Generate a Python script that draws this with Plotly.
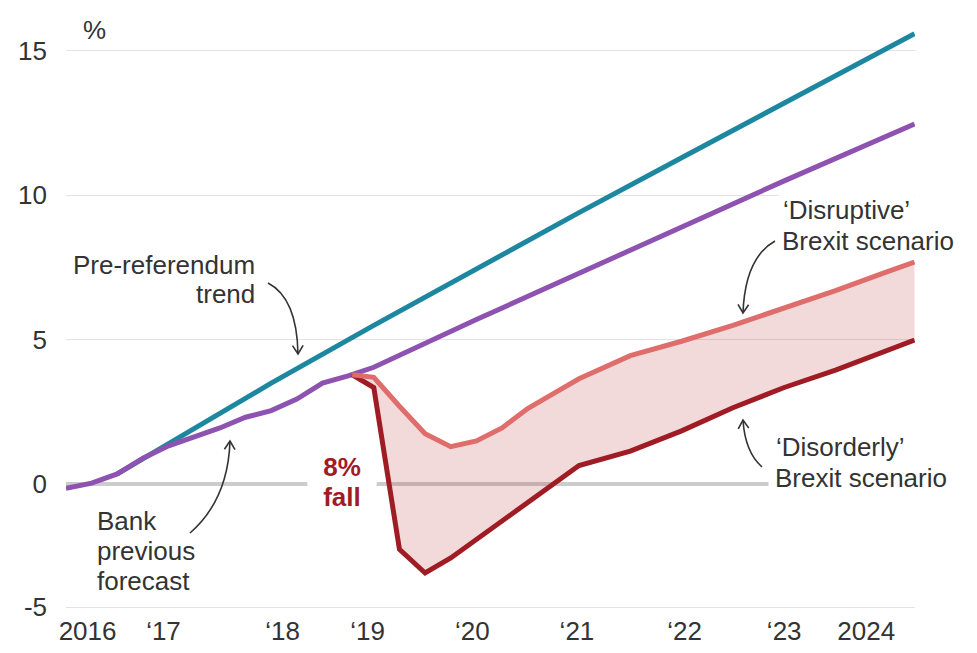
import math
import plotly.graph_objects as go

# ---------------- data ----------------
trend_x = [2016.5, 2017.0, 2018.0, 2019.0, 2020.0, 2021.0, 2022.0, 2023.0, 2024.27]
trend_y = [0.36, 1.4, 3.5, 5.5, 7.45, 9.4, 11.3, 13.2, 15.59]

bank_x = [2016.0, 2016.25, 2016.5, 2016.75, 2017.0, 2017.25, 2017.5, 2017.75, 2018.0,
          2018.25, 2018.5, 2018.75, 2019.0, 2020.0, 2021.0, 2022.0, 2023.0, 2024.27]
bank_y = [-0.14, 0.04, 0.36, 0.9, 1.33, 1.62, 1.95, 2.32, 2.55,
          2.95, 3.5, 3.75, 4.05, 5.7, 7.3, 8.9, 10.5, 12.47]

scen_x = [2018.79, 2019.0, 2019.25, 2019.5, 2019.75, 2020.0, 2020.25, 2020.5, 2020.75,
          2021.0, 2021.5, 2022.0, 2022.5, 2023.0, 2023.5, 2024.0, 2024.27]
disruptive_y = [3.79, 3.7, 2.7, 1.75, 1.3, 1.5, 1.95, 2.62, 3.14,
                3.65, 4.45, 4.95, 5.5, 6.1, 6.7, 7.35, 7.69]
disorderly_y = [3.79, 3.35, -2.25, -3.07, -2.55, -1.9, -1.25, -0.6, 0.05,
                0.65, 1.15, 1.85, 2.65, 3.35, 3.95, 4.6, 4.99]

xtick_vals = [2016.21, 2016.95, 2018.11, 2018.94, 2019.96, 2020.98, 2022.03, 2023.0, 2023.8]
xtick_text = ["2016", "\u201817", "\u201818", "\u201819", "\u201820", "\u201821",
              "\u201822", "\u201823", "2024"]
ytick_text = ["-5", "0", "5", "10", "15"]

# ---------------- styling ----------------
W, H = 977, 653
PL, PR, PT, PB = 66, 915, 10, 607          # plot area in pixels
X_PER_YEAR = 102.6
Y_ZERO, Y_PER_UNIT = 484.3, 28.9

def dx(px):
    return 2016 + (px - PL) / X_PER_YEAR

def dy(py):
    return (Y_ZERO - py) / Y_PER_UNIT

x_range = [dx(PL), dx(PR)]
y_range = [dy(PB), dy(PT)]
ytick_vals = [y_range[0], 0, 5, 10, 15]

FONT = "Liberation Sans, Arial, sans-serif"
TXT = "#333333"
TEAL = "#1e87a0"
PURPLE = "#8e52b0"
DISRUPT = "#df6d6c"
DISORDER = "#a01c24"

fig = go.Figure()
fig.add_trace(go.Scatter(x=trend_x, y=trend_y, mode="lines",
                         line=dict(color=TEAL, width=5), hoverinfo="skip"))
fig.add_trace(go.Scatter(x=bank_x, y=bank_y, mode="lines",
                         line=dict(color=PURPLE, width=5), hoverinfo="skip"))
fig.add_trace(go.Scatter(x=scen_x, y=disorderly_y, mode="lines",
                         line=dict(color=DISORDER, width=5), hoverinfo="skip"))
fig.add_trace(go.Scatter(x=scen_x, y=disruptive_y, mode="lines", fill="tonexty",
                         fillcolor="rgba(190,50,50,0.18)",
                         line=dict(color=DISRUPT, width=5), hoverinfo="skip"))

# ---------------- annotations ----------------
annotations = []

def label(text, px, py, anchor, bg=None, pad=0, color=TXT, bold=False, width=None):
    a = dict(text=("<b>%s</b>" % text) if bold else text,
             x=dx(px), y=dy(py), xref="x", yref="y",
             xanchor=anchor, yanchor="middle", showarrow=False,
             font=dict(family=FONT, size=26, color=color))
    if bg:
        a.update(bgcolor=bg, borderpad=pad)
    if width:
        a.update(width=width, align="center")
    annotations.append(a)

label("Pre-referendum", 257, 265, "right")
label("trend", 257, 294, "right")
label("Bank", 95, 521, "left")
label("previous", 95, 551, "left")
label("forecast", 95, 581, "left")
# second lines first so the first lines (with descenders) sit on top
label("Brexit scenario", 778, 241, "left", bg="white", pad=3)
label("\u2018Disruptive\u2019", 778, 210, "left", bg="white", pad=4)
label("Brexit scenario", 768, 478, "left", bg="white", pad=6)
label("\u2018Disorderly\u2019", 774, 447, "left")
label("8%", 342, 467, "center", bg="white", pad=2, color=DISORDER, bold=True, width=64)
label("fall", 342, 497, "center", bg="white", pad=2, color=DISORDER, bold=True, width=64)

annotations.append(dict(text="%", x=33 / W, y=1 - 22 / H, xref="paper", yref="paper",
                        xanchor="center", yanchor="middle", showarrow=False,
                        font=dict(family=FONT, size=26, color=TXT)))

# ---------------- curved arrows ----------------
shapes = []

def arrow(start, ctrl, tip, arm=10, ang=32):
    p = lambda q: "%.5f,%.5f" % (dx(q[0]), dy(q[1]))
    shapes.append(dict(type="path", xref="x", yref="y",
                       path="M %s Q %s %s" % (p(start), p(ctrl), p(tip)),
                       line=dict(color="#333333", width=1.6)))
    vx, vy = tip[0] - ctrl[0], tip[1] - ctrl[1]
    n = math.hypot(vx, vy)
    vx, vy = vx / n, vy / n
    pts = []
    for s in (1, -1):
        a = math.radians(ang) * s
        rx = vx * math.cos(a) - vy * math.sin(a)
        ry = vx * math.sin(a) + vy * math.cos(a)
        pts.append((tip[0] - arm * rx, tip[1] - arm * ry))
    shapes.append(dict(type="path", xref="x", yref="y",
                       path="M %s L %s L %s" % (p(pts[0]), p(tip), p(pts[1])),
                       line=dict(color="#333333", width=1.6)))

arrow((268, 283), (297, 298), (298, 354))
arrow((190, 533), (228, 500), (230, 441))
arrow((775, 241), (745, 258), (743, 313))
arrow((762, 467), (745, 452), (743, 420))

fig.update_layout(
    width=W, height=H,
    margin=dict(l=PL, r=W - PR, t=PT, b=H - PB, pad=0, autoexpand=False),
    paper_bgcolor="white", plot_bgcolor="white",
    showlegend=False,
    annotations=annotations, shapes=shapes,
    font=dict(family=FONT, size=26, color=TXT),
    xaxis=dict(range=x_range, tickvals=xtick_vals, ticktext=xtick_text,
               showgrid=False, zeroline=False, showline=True, linecolor="#e3e3e3",
               linewidth=1, ticks="", ticklabelstandoff=1, automargin=False,
               tickfont=dict(family=FONT, size=26, color=TXT), fixedrange=True),
    yaxis=dict(range=y_range, tickvals=ytick_vals, ticktext=ytick_text,
               showgrid=True, gridcolor="#e3e3e3", gridwidth=1,
               zeroline=True, zerolinecolor="#cccccc", zerolinewidth=4,
               ticks="", ticklabelstandoff=18, automargin=False,
               tickfont=dict(family=FONT, size=26, color=TXT), fixedrange=True),
)

fig.write_html("out.html")
